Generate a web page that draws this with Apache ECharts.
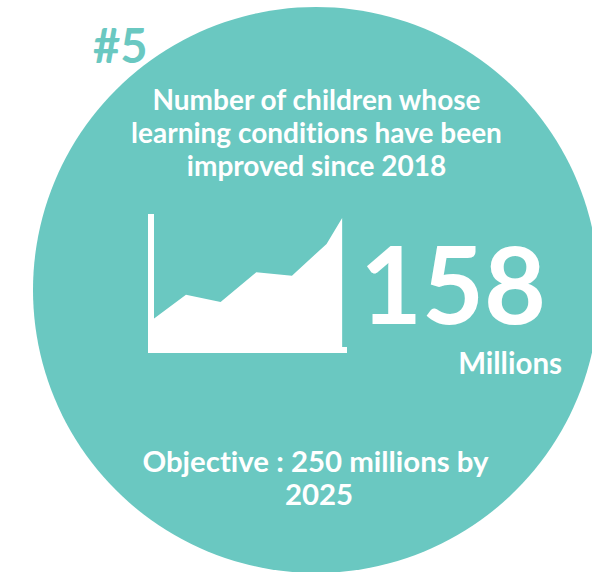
<!DOCTYPE html>
<html>
<head>
<meta charset="utf-8">
<style>
html,body{margin:0;padding:0;background:#fff}
#c{width:592px;height:572px}
#c text{font-variant-ligatures:none !important}
</style>
<script src="https://cdn.jsdelivr.net/npm/echarts@6/dist/echarts.min.js"></script>
</head>
<body>
<div id="c"></div>
<script>
// Children reached over time, in millions
const years = [2018, 2018.94, 2019.94, 2020.97, 2022, 2023, 2023.45];
const children = [37, 66, 57.5, 93, 89, 127, 158];
const badge = '#5';
const heading = ['Number of children whose', 'learning conditions have been', 'improved since 2018'];
const total = '158';
const unit = 'Millions';
const objective = ['Objective : 250 millions by', '2025'];

const teal = '#6AC8C1';
const font = 'Lato';

function label(text, x, y, size, align, fill) {
  return {
    type: 'text', z: 5,
    style: { text, x, y, fill: fill || '#fff', font: `bold ${size}px ${font}`, align, verticalAlign: 'middle' }
  };
}

// SVG output lets the stylesheet switch off ligatures in the text
const chart = echarts.init(document.getElementById('c'), null, { renderer: 'svg' });
chart.setOption({
  animation: false,
  backgroundColor: '#fff',
  grid: { left: 151, top: 217, width: 196, height: 133 },
  xAxis: {
    type: 'value', min: 2017.93, max: 2023.59,
    axisLine: { show: true, onZero: false, lineStyle: { color: '#fff', width: 6, cap: 'butt' } },
    axisTick: { show: false }, axisLabel: { show: false }, splitLine: { show: false }
  },
  yAxis: {
    type: 'value', min: 0, max: 159.2,
    axisLine: { show: true, lineStyle: { color: '#fff', width: 6, cap: 'square' } },
    axisTick: { show: false }, axisLabel: { show: false }, splitLine: { show: false }
  },
  series: [{
    type: 'line', z: 3,
    data: years.map((y, i) => [y, children[i]]),
    symbol: 'none',
    lineStyle: { width: 0 },
    areaStyle: { color: '#fff', opacity: 1 }
  }],
  graphic: [
    { type: 'circle', z: -10, shape: { cx: 316, cy: 290, r: 283 }, style: { fill: teal } },
    label(badge, 93, 45, 47, 'left', teal),
    label(heading[0], 316.5, 98.5, 28, 'center'),
    label(heading[1], 316.5, 131.5, 28, 'center'),
    label(heading[2], 316.5, 164.5, 28, 'center'),
    label(total, 453, 282, 107, 'center'),
    label(unit, 562, 362.5, 29.5, 'right'),
    label(objective[0], 315.5, 460, 29.4, 'center'),
    label(objective[1], 319, 493, 29.4, 'center')
  ]
});
</script>
</body>
</html>
